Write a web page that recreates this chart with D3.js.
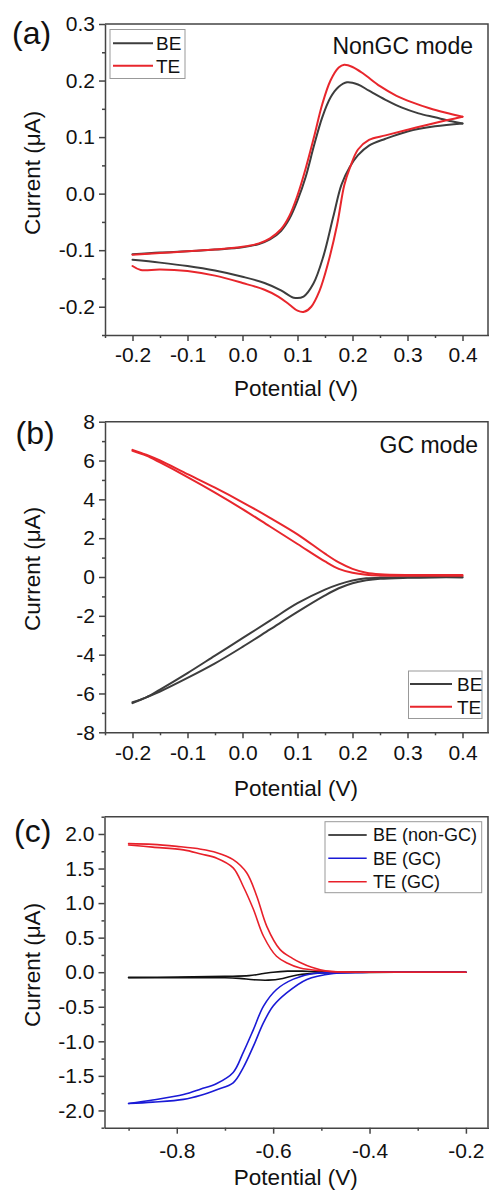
<!DOCTYPE html>
<html><head><meta charset="utf-8">
<script src="https://cdn.jsdelivr.net/npm/d3@7"></script>
<style>
html,body{margin:0;padding:0;background:#fff;}
svg{display:block;font-family:"Liberation Sans",Arial,sans-serif;}
</style></head><body>
<svg id="chart" width="489" height="1191"></svg>
<script>
// ---------- Panel (a): NonGC mode ----------
const aBEupX = [-0.2,-0.15,-0.1,-0.05,0,0.03,0.05,0.07,0.085,0.1,0.115,0.13,0.145,0.16,0.175,0.19,0.21,0.23,0.26,0.29,0.32,0.35,0.38,0.4];
const aBEupY = [-0.107,-0.104,-0.102,-0.099,-0.095,-0.089,-0.081,-0.066,-0.045,-0.012,0.03,0.085,0.135,0.17,0.189,0.197,0.193,0.182,0.166,0.152,0.142,0.135,0.128,0.124];
const aBEdnX = [0.4,0.35,0.3,0.26,0.23,0.21,0.195,0.18,0.165,0.147,0.129,0.111,0.093,0.07,0.04,0.0,-0.05,-0.1,-0.15,-0.2];
const aBEdnY = [0.124,0.119,0.11,0.097,0.085,0.068,0.047,0.016,-0.041,-0.111,-0.159,-0.182,-0.184,-0.171,-0.158,-0.147,-0.136,-0.128,-0.122,-0.117];
const aTEupX = [-0.2,-0.15,-0.1,-0.05,0,0.03,0.05,0.07,0.085,0.1,0.115,0.13,0.145,0.16,0.175,0.185,0.2,0.22,0.25,0.28,0.31,0.34,0.37,0.4];
const aTEupY = [-0.108,-0.105,-0.102,-0.099,-0.094,-0.088,-0.079,-0.063,-0.04,-0.003,0.045,0.1,0.158,0.2,0.223,0.228,0.224,0.212,0.19,0.173,0.161,0.151,0.143,0.136];
const aTEdnX = [0.4,0.35,0.3,0.26,0.23,0.21,0.195,0.185,0.172,0.155,0.14,0.125,0.112,0.1,0.085,0.065,0.04,0,-0.05,-0.1,-0.15,-0.185,-0.2];
const aTEdnY = [0.136,0.125,0.113,0.103,0.095,0.078,0.045,0.015,-0.055,-0.125,-0.172,-0.2,-0.209,-0.207,-0.196,-0.182,-0.17,-0.158,-0.145,-0.137,-0.134,-0.135,-0.128];
const aXTicks = [-0.2,-0.1,0,0.1,0.2,0.3,0.4];
const aXMinor = [-0.25,-0.15,-0.05,0.05,0.15,0.25,0.35];
const aYTicks = [-0.2,-0.1,0,0.1,0.2,0.3];
const aYMinor = [-0.25,-0.15,-0.05,0.05,0.15,0.25];

// ---------- Panel (b): GC mode ----------
const bBEupX = [-0.2,-0.175,-0.15,-0.1,-0.05,0,0.05,0.1,0.15,0.175,0.2,0.225,0.25,0.3,0.35,0.4];
const bBEupY = [-6.45,-6.2,-5.8,-4.95,-4.05,-3.15,-2.25,-1.35,-0.65,-0.38,-0.18,-0.07,-0.03,-0.01,0,0];
const bBEdnX = [0.4,0.35,0.3,0.25,0.225,0.2,0.175,0.15,0.1,0.05,0,-0.05,-0.1,-0.15,-0.175,-0.2];
const bBEdnY = [-0.02,-0.02,-0.04,-0.09,-0.17,-0.32,-0.58,-0.95,-1.8,-2.7,-3.6,-4.45,-5.2,-5.9,-6.2,-6.5];
const bTEupX = [-0.2,-0.175,-0.15,-0.1,-0.05,0,0.05,0.1,0.15,0.175,0.2,0.225,0.25,0.3,0.35,0.4];
const bTEupY = [6.55,6.3,6.0,5.3,4.6,3.85,3.05,2.2,1.2,0.75,0.42,0.22,0.14,0.1,0.1,0.1];
const bTEdnX = [0.4,0.35,0.3,0.25,0.225,0.2,0.175,0.15,0.1,0.05,0,-0.05,-0.1,-0.15,-0.175,-0.2];
const bTEdnY = [0.07,0.06,0.06,0.08,0.12,0.22,0.42,0.8,1.7,2.6,3.5,4.35,5.15,5.9,6.25,6.5];
const bXTicks = [-0.2,-0.1,0,0.1,0.2,0.3,0.4];
const bXMinor = [-0.25,-0.15,-0.05,0.05,0.15,0.25,0.35];
const bYTicks = [-8,-6,-4,-2,0,2,4,6,8];
const bYMinor = [-7,-5,-3,-1,1,3,5,7];

// ---------- Panel (c) ----------
const cBEngUpX = [-0.9,-0.8,-0.7,-0.65,-0.62,-0.6,-0.57,-0.54,-0.5,-0.4,-0.3,-0.2];
const cBEngUpY = [-0.075,-0.07,-0.06,-0.05,-0.02,0.0,0.015,0.015,0.005,0,0,0];
const cBEngDnX = [-0.2,-0.3,-0.4,-0.5,-0.55,-0.58,-0.61,-0.64,-0.67,-0.7,-0.8,-0.9];
const cBEngDnY = [0,0,-0.002,-0.01,-0.04,-0.09,-0.115,-0.11,-0.09,-0.08,-0.08,-0.08];
const cBEgcOutX = [-0.9,-0.85,-0.786,-0.75,-0.717,-0.683,-0.662,-0.641,-0.62,-0.6,-0.572,-0.53,-0.475,-0.43,-0.4,-0.3,-0.2];
const cBEgcOutY = [-1.9,-1.88,-1.84,-1.78,-1.70,-1.6,-1.38,-1.07,-0.73,-0.49,-0.30,-0.105,-0.02,-0.005,0,0,0];
const cBEgcInX = [-0.2,-0.3,-0.4,-0.45,-0.517,-0.558,-0.593,-0.62,-0.641,-0.662,-0.683,-0.717,-0.75,-0.786,-0.85,-0.9];
const cBEgcInY = [0,0,0,-0.005,-0.02,-0.1,-0.25,-0.49,-0.83,-1.16,-1.45,-1.61,-1.69,-1.77,-1.85,-1.9];
const cTEgcOutX = [-0.9,-0.85,-0.8,-0.75,-0.717,-0.683,-0.655,-0.634,-0.613,-0.586,-0.56,-0.544,-0.52,-0.489,-0.45,-0.4,-0.3,-0.2];
const cTEgcOutY = [1.86,1.85,1.82,1.78,1.73,1.63,1.44,1.10,0.66,0.33,0.2,0.14,0.07,0.015,0.003,0,0,0];
const cTEgcInX = [-0.2,-0.3,-0.4,-0.45,-0.5,-0.544,-0.57,-0.593,-0.62,-0.641,-0.662,-0.683,-0.717,-0.75,-0.786,-0.85,-0.9];
const cTEgcInY = [0,0,0,0.003,0.02,0.06,0.13,0.23,0.52,0.91,1.24,1.51,1.65,1.71,1.77,1.81,1.84];
const cXTicks = [-0.8,-0.6,-0.4,-0.2];
const cXMinor = [-0.9,-0.7,-0.5,-0.3];
const cYTicks = [-2,-1.5,-1,-0.5,0,0.5,1,1.5,2];
const cYMinor = [-2.25,-1.75,-1.25,-0.75,-0.25,0.25,0.75,1.25,1.75,2.25];

// ---------- drawing ----------
const loc = d3.formatLocale({decimal:".",thousands:",",grouping:[3],currency:["$",""],minus:"-"});
const svg = d3.select("#chart");
const AXIS = "#444";
const TXT = "#111";

function drawPanel(p) {
  const g = svg.append("g");
  const x = d3.scaleLinear().domain(p.xDomain).range([p.left, p.right]);
  const y = d3.scaleLinear().domain(p.yDomain).range([p.bottom, p.top]);

  g.append("path").attr("d", `M${p.left},${p.top}H${p.frameRight}V${p.bottom}`)
    .attr("fill","none").attr("stroke",AXIS).attr("stroke-width",1.5);

  const mx = g.append("g").attr("transform",`translate(0,${p.bottom})`)
    .call(d3.axisBottom(x).tickValues(p.xMinor).tickSize(3).tickSizeOuter(0).tickFormat(""));
  mx.select(".domain").remove();
  const my = g.append("g").attr("transform",`translate(${p.left},0)`)
    .call(d3.axisLeft(y).tickValues(p.yMinor).tickSize(3).tickSizeOuter(0).tickFormat(""));
  my.select(".domain").remove();

  const xa = g.append("g").attr("transform",`translate(0,${p.bottom})`)
    .call(d3.axisBottom(x).tickValues(p.xTicks).tickSize(6).tickSizeOuter(0).tickFormat(loc.format(p.xFmt)));
  xa.selectAll("text").attr("y",p.xLabelY).attr("dy",null);
  const ya = g.append("g").attr("transform",`translate(${p.left},0)`)
    .call(d3.axisLeft(y).tickValues(p.yTicks).tickSize(6).tickPadding(4).tickSizeOuter(0).tickFormat(loc.format(p.yFmt)));
  [xa,ya,mx,my].forEach(a=>{
    a.selectAll("line").attr("stroke",AXIS).attr("stroke-width",1.5);
    a.selectAll(".domain").attr("stroke",AXIS).attr("stroke-width",1.5);
    a.selectAll("text").attr("fill",TXT).style("font-size","21px").style("font-family",'"Liberation Sans",Arial,sans-serif');
  });

  const line = d3.line().x(d=>x(d[0])).y(d=>y(d[1])).curve(d3.curveCatmullRom.alpha(0.5));
  p.series.forEach(s=>{
    s.branches.forEach(b=>{
      g.append("path").datum(d3.zip(b[0],b[1])).attr("d",line)
        .attr("fill","none").attr("stroke",s.color).attr("stroke-width",p.lw)
        .attr("stroke-linejoin","round").attr("stroke-linecap","round");
    });
  });

  g.append("text").attr("x",(p.left+487)/2).attr("y",p.xTitleY).attr("text-anchor","middle")
    .attr("fill",TXT).style("font-size","22.5px").text("Potential (V)");
  g.append("text").attr("transform",`translate(40,${p.yTitleC}) rotate(-90)`).attr("text-anchor","middle")
    .attr("fill",TXT).style("font-size","22.5px").text("Current (\u03BCA)");

  g.append("text").attr("x",p.tagX).attr("y",p.tagY).attr("fill",TXT).style("font-size","32px").text(p.tag);

  if (p.mode) g.append("text").attr("x",p.mode.x).attr("y",p.mode.y).attr("text-anchor","end")
    .attr("fill",TXT).style("font-size","23px").text(p.mode.text);

  const L = p.legend;
  g.append("rect").attr("x",L.x0).attr("y",L.y0).attr("width",L.x1-L.x0).attr("height",L.y1-L.y0)
    .attr("fill","#fff").attr("stroke","#999").attr("stroke-width",1);
  p.series.forEach((s,i)=>{
    const yy = L.rows[i];
    g.append("line").attr("x1",L.lx0).attr("x2",L.lx1).attr("y1",yy).attr("y2",yy)
      .attr("stroke",s.color).attr("stroke-width",p.lw);
    g.append("text").attr("x",L.tx).attr("y",yy).attr("dy","0.36em").attr("fill",TXT)
      .style("font-size",L.fs+"px").text(s.name);
  });
}

drawPanel({
  left:105, right:490, frameRight:488, top:24, bottom:335,
  xDomain:[-0.25,0.45], yDomain:[-0.25,0.3],
  xTicks:aXTicks, xMinor:aXMinor, yTicks:aYTicks, yMinor:aYMinor, xFmt:".1f", yFmt:".1f",
  xLabelY:27, xTitleY:396, yTitleC:173, tag:"(a)", tagX:12, tagY:43.5, lw:2,
  mode:{text:"NonGC mode", x:473, y:54},
  series:[
    {name:"BE", color:"#3d3d3d", branches:[[aBEupX,aBEupY],[aBEdnX,aBEdnY]]},
    {name:"TE", color:"#e8262c", branches:[[aTEupX,aTEupY],[aTEdnX,aTEdnY]]}
  ],
  legend:{x0:110,x1:185,y0:29.5,y1:78.5,lx0:113,lx1:153,tx:156,rows:[43.3,65.7],fs:19}
});

drawPanel({
  left:105, right:490, frameRight:488, top:421.7, bottom:732.3,
  xDomain:[-0.25,0.45], yDomain:[-8,8],
  xTicks:bXTicks, xMinor:bXMinor, yTicks:bYTicks, yMinor:bYMinor, xFmt:".1f", yFmt:"d",
  xLabelY:28, xTitleY:796, yTitleC:569, tag:"(b)", tagX:15.5, tagY:443.6, lw:2,
  mode:{text:"GC mode", x:478, y:452.7},
  series:[
    {name:"BE", color:"#3d3d3d", branches:[[bBEupX,bBEupY],[bBEdnX,bBEdnY]]},
    {name:"TE", color:"#e8262c", branches:[[bTEupX,bTEupY],[bTEdnX,bTEdnY]]}
  ],
  legend:{x0:408.5,x1:482,y0:671,y1:718.5,lx0:410,lx1:452,tx:457,rows:[684,706.7],fs:19}
});

drawPanel({
  left:104.5, right:490, frameRight:488, top:816.7, bottom:1127.7,
  xDomain:[-0.95,-0.15], yDomain:[-2.25,2.25],
  xTicks:cXTicks, xMinor:cXMinor, yTicks:cYTicks, yMinor:cYMinor, xFmt:".1f", yFmt:".1f",
  xLabelY:30, xTitleY:1185, yTitleC:965, tag:"(c)", tagX:14, tagY:841.7, lw:1.6,
  mode:null,
  series:[
    {name:"BE (non-GC)", color:"#111111", branches:[[cBEngUpX,cBEngUpY],[cBEngDnX,cBEngDnY]]},
    {name:"BE (GC)", color:"#1a1ad6", branches:[[cBEgcOutX,cBEgcOutY],[cBEgcInX,cBEgcInY]]},
    {name:"TE (GC)", color:"#e8202a", branches:[[cTEgcOutX,cTEgcOutY],[cTEgcInX,cTEgcInY]]}
  ],
  legend:{x0:325,x1:481.7,y0:821.7,y1:892.7,lx0:328.3,lx1:366.7,tx:373,rows:[835,858.3,881.7],fs:18}
});
</script>
</body></html>
